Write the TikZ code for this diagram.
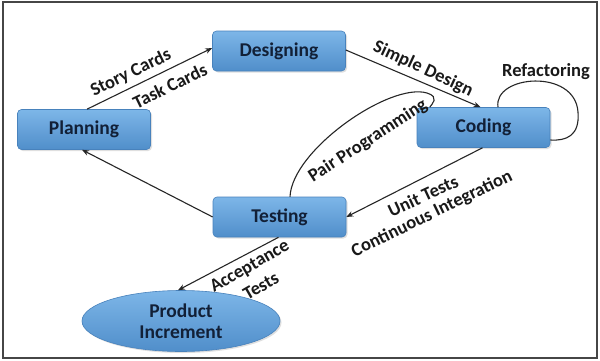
\documentclass[tikz,border=0pt]{standalone}
\usepackage{fontspec}
\setmainfont{Carlito}
\usetikzlibrary{arrows.meta,shapes.geometric,shadows,calc}
\definecolor{boxtop}{RGB}{125,182,232}
\definecolor{boxmid}{RGB}{104,166,222}
\definecolor{boxbot}{RGB}{80,142,202}
\definecolor{boxline}{RGB}{72,130,188}
\definecolor{txt}{RGB}{18,32,55}
\definecolor{frame}{RGB}{70,70,70}
\tikzset{
  stagebox/.style={rectangle, rounded corners=4pt, minimum width=133pt, minimum height=40pt,
    top color=boxtop, middle color=boxmid, bottom color=boxbot, draw=boxline, line width=0.6pt,
    drop shadow={opacity=0.25, shadow xshift=1.5pt, shadow yshift=-1.5pt},
    text=txt, font=\fontsize{19.5}{21}\selectfont\bfseries, inner sep=0pt},
  endell/.style={ellipse, minimum width=198pt, minimum height=61pt, inner sep=0pt,
    top color=boxtop, middle color=boxmid, bottom color=boxbot, draw=boxline, line width=0.6pt,
    drop shadow={opacity=0.25, shadow xshift=1.5pt, shadow yshift=-1.5pt},
    text=txt, font=\fontsize{19.5}{21}\selectfont\bfseries, align=center},
  flow/.style={line width=1.1pt, draw=black!85, -{Stealth[length=7pt,width=5.5pt]}},
  loopline/.style={line width=1.1pt, draw=black!85},
  lbl/.style={text=black!90, font=\fontsize{18.5}{19}\selectfont\bfseries, inner sep=0pt}
}
\begin{document}
\begin{tikzpicture}[x=1pt,y=-1pt]
\useasboundingbox (0,0) rectangle (600,360);
\fill[white] (0,0) rectangle (600,360);
\draw[frame, line width=2pt] (2.5,1.5) rectangle (597,358);

\node[stagebox] (de) at (279,51) {Designing};
\node[stagebox] (pl) at (84,129.5) {Planning};
\node[stagebox] (co) at (483.5,127.5) {Coding};
\node[stagebox] (te) at (279.5,217) {Testing};
\node[endell] (pi) at (181,321) {Product\\Increment};

\draw[flow] ($(pl.north)+(3,0)$) -- ($(de.west)+(0,-3)$);
\draw[flow] ($(de.east)+(0,-1)$) -- ($(co.north)+(-3,0)$);
\draw[flow] ($(co.south)+(-1,0)$) -- (te.east);
\draw[flow] (te.west) -- ($(pl.south)+(-2,0)$);
\draw[flow] ($(te.south)+(-1,0)$) -- ($(pi.north)+(-3,0)$);

\draw[loopline] ($(co.north)+(14.5,0)$) .. controls (493,75) and (575,68) .. (578,112)
   .. controls (580,136) and (566,141) .. ($(co.east)+(0,12.5)$);
\draw[loopline] ($(te.north)+(10.5,0)$) .. controls (292,150) and (390,82) .. (427,93)
   .. controls (440,97) and (432,104) .. ($(co.north west)+(13,0)$);

\node[lbl, rotate=26] (l1) at (131,73) {Story Cards};
\node[lbl, rotate=26] (l2) at (170,86) {Task Cards};
\node[lbl, rotate=-25] (l3) at (423,69) {Simple Design};
\node[lbl] (l4) at (546,72) {Refactoring};
\node[lbl, rotate=33] (l5) at (368,141) {Pair Programming};
\node[lbl, rotate=25] (l6) at (423,196) {Unit Tests};
\node[lbl, rotate=26] (l7) at (432,214) {Continuous Integration};
\node[lbl, rotate=30] (l8) at (250,267) {Acceptance};
\node[lbl, rotate=30] (l9) at (261,286) {Tests};
\end{tikzpicture}
\end{document}
